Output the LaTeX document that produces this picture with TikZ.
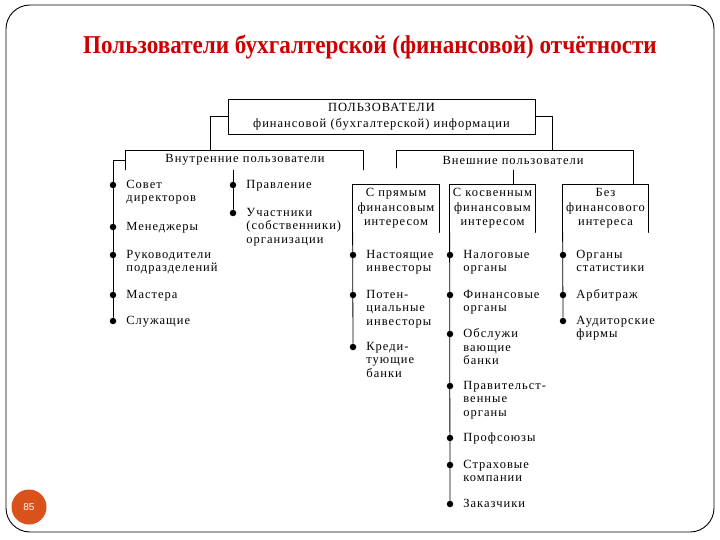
\documentclass[tikz,border=0pt]{standalone}
\usepackage{fontspec}
\setmainfont{Liberation Serif}
\setsansfont{Liberation Sans}
\newfontfamily\diagfont[LetterSpace=8]{Liberation Serif}
\newfontfamily\titlefont[FakeStretch=0.9]{Liberation Serif}
\usepackage{xcolor}
\usepackage{tikz}
\usetikzlibrary{positioning}
\definecolor{titlered}{RGB}{204,0,0}
\definecolor{pagenum}{RGB}{217,82,28}
\tikzset{
  dotv/.style={circle, fill, inner sep=0pt, minimum size=6.5pt},
  itm/.style={anchor=north west, xshift=13pt, yshift=5.5pt, align=left, inner sep=0pt,
    font=\diagfont\fontsize{12.5}{13.5}\selectfont},
  grp/.style={align=center, inner sep=0pt, font=\diagfont\fontsize{12.5}{14.5}\selectfont},
  lab/.style={inner sep=1pt, font=\diagfont\fontsize{12.5}{14}\selectfont},
  every picture/.style={line cap=round, line join=round}
}

\begin{document}
\begin{tikzpicture}[x=1pt, y=-1pt, line width=0.8pt]
  \useasboundingbox (0,0) rectangle (720,540);
  \draw[rounded corners=24pt, line width=0.9pt] (6,5) rectangle (714,532);

  \node[font=\titlefont\bfseries\fontsize{25.7}{30}\selectfont, text=titlered] (title) at (370,47)
    {Пользователи бухгалтерской (финансовой) отчётности};
  \node[circle, fill=pagenum, minimum size=35pt, inner sep=0pt, text=white,
    font=\sffamily\fontsize{10}{12}\selectfont] (pg) at (29,507) {85};

  \node[draw, grp, minimum width=307pt, minimum height=35pt, font=\diagfont\fontsize{12.5}{15.5}\selectfont]
    (top) at (381.5,116.5) {ПОЛЬЗОВАТЕЛИ\\финансовой (бухгалтерской) информации};

  % internal users
  \node[lab] (inlab) at (245,160) {Внутренние пользователи};
  \coordinate (inj) at (210,150);
  \coordinate (inl) at (125,170);
  \coordinate (inr) at (363,150);
  \coordinate (inrb) at (363,170);
  \coordinate (ink) at (125,160);
  \coordinate (ins) at (233,170);

  \node[dotv] (dA1) at (113,185) {};
  \node[dotv] (dA2) at (113,227) {};
  \node[dotv] (dA3) at (113,255) {};
  \node[dotv] (dA4) at (113,295) {};
  \node[dotv] (dA5) at (113,321) {};
  \node[dotv] (dB1) at (233,185) {};
  \node[dotv] (dB2) at (233,213) {};

  \node[itm] (tA1) at (dA1) {Совет\\директоров};
  \node[itm] (tA2) at (dA2) {Менеджеры};
  \node[itm] (tA3) at (dA3) {Руководители\\подразделений};
  \node[itm] (tA4) at (dA4) {Мастера};
  \node[itm] (tA5) at (dA5) {Служащие};
  \node[itm] (tB1) at (dB1) {Правление};
  \node[itm] (tB2) at (dB2) {Участники\\(собственники)\\организации};

  \draw (top.west) -| (inj);
  \draw (inl) |- (inr) -- (inrb);
  \draw (ink) -| (dA5);
  \draw (ins) -- (dB2);

  % external users
  \node[lab] (exlab) at (513,160) {Внешние пользователи};
  \coordinate (exj) at (552,150);
  \coordinate (exl) at (396,168);
  \coordinate (exr) at (633,150);
  \coordinate (exs) at (513,170);

  \node[grp, minimum width=86pt, minimum height=47pt] (bC) at (396,208.5) {С прямым\\финансовым\\интересом};
  \node[grp, minimum width=85pt, minimum height=47pt] (bD) at (492.5,208.5) {С косвенным\\финансовым\\интересом};
  \node[grp, minimum width=85pt, minimum height=47pt] (bE) at (605.5,208.5) {Без\\финансового\\интереса};

  \node[dotv] (dC1) at (353,255) {};
  \node[dotv] (dC2) at (353,295) {};
  \node[dotv] (dC3) at (353,347) {};
  \node[dotv] (dD1) at (450,255) {};
  \node[dotv] (dD2) at (450,295) {};
  \node[dotv] (dD3) at (450,334) {};
  \node[dotv] (dD4) at (450,386) {};
  \node[dotv] (dD5) at (450,438) {};
  \node[dotv] (dD6) at (450,465) {};
  \node[dotv] (dD7) at (450,504) {};
  \node[dotv] (dE1) at (563,255) {};
  \node[dotv] (dE2) at (563,295) {};
  \node[dotv] (dE3) at (563,321) {};

  \node[itm] (tC1) at (dC1) {Настоящие\\инвесторы};
  \node[itm] (tC2) at (dC2) {Потен-\\циальные\\инвесторы};
  \node[itm] (tC3) at (dC3) {Креди-\\тующие\\банки};
  \node[itm] (tD1) at (dD1) {Налоговые\\органы};
  \node[itm] (tD2) at (dD2) {Финансовые\\органы};
  \node[itm] (tD3) at (dD3) {Обслужи\\вающие\\банки};
  \node[itm] (tD4) at (dD4) {Правительст-\\венные\\органы};
  \node[itm] (tD5) at (dD5) {Профсоюзы};
  \node[itm] (tD6) at (dD6) {Страховые\\компании};
  \node[itm] (tD7) at (dD7) {Заказчики};
  \node[itm] (tE1) at (dE1) {Органы\\статистики};
  \node[itm] (tE2) at (dE2) {Арбитраж};
  \node[itm] (tE3) at (dE3) {Аудиторские\\фирмы};

  \draw (top.east) -| (exj);
  \draw (exl) |- (exr) -- (bE.north -| exr);
  \draw (exs) -- (bD.north -| exs);
  \foreach \b in {bC,bD,bE}
    \draw (\b.south west) |- (\b.north east) -- (\b.south east);
  \draw (bC.south west) -- (dC3);
  \draw (bD.south west) -- (dD7);
  \draw (bE.south west) -- (dE3);
\end{tikzpicture}
\end{document}
